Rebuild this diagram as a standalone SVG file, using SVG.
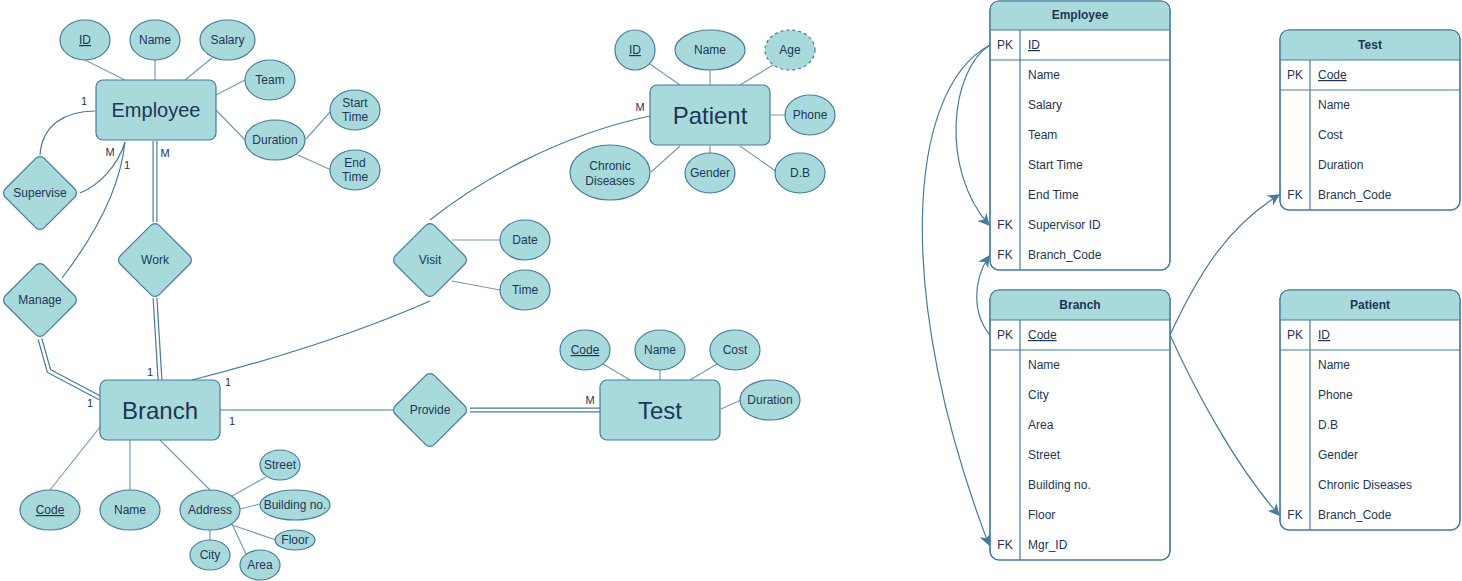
<svg xmlns="http://www.w3.org/2000/svg" width="1462" height="581" viewBox="0 0 1462 581">
<style>
text{font-family:"Liberation Sans",Arial,sans-serif;fill:#1D3557;}
.a{font-size:12px;text-anchor:middle;}
.u{text-decoration:underline;}
.e{font-size:24px;text-anchor:middle;}
.c{font-size:11px;text-anchor:middle;}
.sh{fill:#A8DADC;stroke:#457B9D;stroke-width:1.2;}
.ln{fill:none;stroke:#457B9D;stroke-width:1.2;}
.al{fill:none;stroke:#457B9D;stroke-width:1.2;opacity:0.75;}
.d1{fill:none;stroke:#457B9D;stroke-width:5;}
.d2{fill:none;stroke:#FFFFFF;stroke-width:2.6;}
.tb{fill:#FFFFFF;stroke:#457B9D;stroke-width:1.2;}
.th{fill:#A8DADC;stroke:none;}
.tt{font-size:12px;}
.tk{font-size:12px;text-anchor:middle;}
.tn{font-size:12px;text-anchor:middle;font-weight:bold;}
.fk{fill:none;stroke:#457B9D;stroke-width:1.2;marker-end:url(#arr);}
</style>
<defs>
<marker id="arr" markerUnits="userSpaceOnUse" markerWidth="12" markerHeight="12" viewBox="0 0 10 10" refX="9" refY="5" orient="auto">
<path d="M0,0 L10,5 L0,10 L3,5 Z" fill="#457B9D"/>
</marker>
</defs>
<rect width="1462" height="581" fill="#FFFFFF"/>

<g id="connectors">
<!-- attribute links -->
<path class="al" d="M85,60 L125,80 M155,60 L155,80 M212,58 L185,80 M245,80 L216,95 M246,141 L216,110 M306,139 L331,111 M298,155 L331,170"/>
<path class="al" d="M100,427 L50,490 M130,440 L130,490 M160,440 L210,490 M232,496 L266,477 M240,509 L260,504 M232,525 L276,540 M232,524 L246,554 M210,530 L210,540"/>
<path class="al" d="M650,64 L680,85 M710,70 L710,85 M773,65 L740,85 M785,115 L770,115 M651,172 L680,146 M710,146 L710,153 M777,172 L740,146"/>
<path class="al" d="M603,364 L630,380 M660,370 L660,380 M717,364 L690,380 M741,400 L721,409"/>
<path class="al" d="M452,240 L500,240 M452,281 L500,290"/>
<!-- relationships -->
<path class="ln" d="M95,111 C 65,111 42,125 40,155"/>
<path class="ln" d="M80,193 C 100,185 118,165 125,142"/>
<path class="ln" d="M125,142 C 120,190 95,235 62,278"/>
<path class="d1" d="M40,339 L49,371 L100,398"/>
<path class="d2" d="M40,339 L49,371 L100,398"/>
<path class="d1" d="M155,141 L155,222"/>
<path class="d2" d="M155,141 L155,222"/>
<path class="d1" d="M155,298 L160,380"/>
<path class="d2" d="M155,298 L160,380"/>
<path class="ln" d="M192,380 Q 330,345 430,301"/>
<path class="ln" d="M430,220 C 480,180 560,135 650,116"/>
<path class="ln" d="M220,410 L393,410"/>
<path class="d1" d="M470,410 L600,410"/>
<path class="d2" d="M470,410 L600,410"/>
<!-- cardinalities -->
<text class="c" x="84" y="105">1</text>
<text class="c" x="110" y="156">M</text>
<text class="c" x="127" y="169">1</text>
<text class="c" x="165" y="157">M</text>
<text class="c" x="150" y="376">1</text>
<text class="c" x="90" y="407">1</text>
<text class="c" x="228" y="386">1</text>
<text class="c" x="232" y="425">1</text>
<text class="c" x="640" y="111">M</text>
<text class="c" x="590" y="404">M</text>
<!-- table links -->
<path class="fk" d="M990,45 C 950,70 940,170 989,225"/>
<path class="fk" d="M990,45 C 905,90 895,300 989,545"/>
<path class="fk" d="M990,335 C 973,315 972,282 989,256"/>
<path class="fk" d="M1170,335 C 1200,270 1230,225 1279,195"/>
<path class="fk" d="M1170,335 C 1195,390 1235,465 1279,515"/>
</g>

<!-- Employee entity -->
<g id="employee">
<rect class="sh" x="96" y="80" width="120" height="60" rx="7"/>
<text x="156" y="117" style="font-size:20px;text-anchor:middle">Employee</text>
</g>
<g id="emp-id"><ellipse class="sh" cx="85" cy="40" rx="25" ry="20"/><text class="a u" x="85" y="44">ID</text></g>
<g id="emp-name"><ellipse class="sh" cx="155" cy="40" rx="25" ry="20"/><text class="a" x="155" y="44">Name</text></g>
<g id="emp-salary"><ellipse class="sh" cx="227.5" cy="40" rx="27.5" ry="20"/><text class="a" x="227.5" y="44">Salary</text></g>
<g id="emp-team"><ellipse class="sh" cx="270" cy="80" rx="25" ry="20"/><text class="a" x="270" y="84">Team</text></g>
<g id="emp-duration"><ellipse class="sh" cx="275" cy="140" rx="30" ry="20"/><text class="a" x="275" y="144">Duration</text></g>
<g id="emp-start"><ellipse class="sh" cx="355" cy="110" rx="25" ry="20"/><text class="a" x="355" y="107">Start</text><text class="a" x="355" y="121">Time</text></g>
<g id="emp-end"><ellipse class="sh" cx="355" cy="170" rx="25" ry="20"/><text class="a" x="355" y="167">End</text><text class="a" x="355" y="181">Time</text></g>

<!-- relationships -->
<g id="supervise"><rect class="sh" x="-27.5" y="-27.5" width="55" height="55" rx="6" transform="translate(40,193) rotate(45)"/><text class="a" x="40" y="197">Supervise</text></g>
<g id="manage"><rect class="sh" x="-27.5" y="-27.5" width="55" height="55" rx="6" transform="translate(40,300) rotate(45)"/><text class="a" x="40" y="304">Manage</text></g>
<g id="work"><rect class="sh" x="-27.5" y="-27.5" width="55" height="55" rx="6" transform="translate(155,260) rotate(45)"/><text class="a" x="155" y="264">Work</text></g>
<g id="visit"><rect class="sh" x="-27.5" y="-27.5" width="55" height="55" rx="6" transform="translate(430,260) rotate(45)"/><text class="a" x="430" y="264">Visit</text></g>
<g id="provide"><rect class="sh" x="-27.5" y="-27.5" width="55" height="55" rx="6" transform="translate(430,410) rotate(45)"/><text class="a" x="430" y="414">Provide</text></g>

<!-- Branch entity -->
<g id="branch">
<rect class="sh" x="100" y="380" width="120" height="60" rx="7"/>
<text class="e" x="160" y="419">Branch</text>
</g>
<g id="br-code"><ellipse class="sh" cx="50" cy="510" rx="30" ry="20"/><text class="a u" x="50" y="514">Code</text></g>
<g id="br-name"><ellipse class="sh" cx="130" cy="510" rx="30" ry="20"/><text class="a" x="130" y="514">Name</text></g>
<g id="br-address"><ellipse class="sh" cx="210" cy="510" rx="30" ry="20"/><text class="a" x="210" y="514">Address</text></g>
<g id="br-street"><ellipse class="sh" cx="280" cy="465" rx="20" ry="15"/><text class="a" x="280" y="469">Street</text></g>
<g id="br-building"><ellipse class="sh" cx="295" cy="505" rx="35" ry="15"/><text class="a" x="295" y="509">Building no.</text></g>
<g id="br-floor"><ellipse class="sh" cx="295" cy="540" rx="20" ry="10"/><text class="a" x="295" y="544">Floor</text></g>
<g id="br-city"><ellipse class="sh" cx="210" cy="555" rx="20" ry="15"/><text class="a" x="210" y="559">City</text></g>
<g id="br-area"><ellipse class="sh" cx="260" cy="565" rx="20" ry="15"/><text class="a" x="260" y="569">Area</text></g>

<!-- Patient entity -->
<g id="patient">
<rect class="sh" x="650" y="85" width="120" height="60" rx="7"/>
<text class="e" x="710" y="124">Patient</text>
</g>
<g id="pat-id"><ellipse class="sh" cx="635" cy="50" rx="20" ry="20"/><text class="a u" x="635" y="54">ID</text></g>
<g id="pat-name"><ellipse class="sh" cx="710" cy="50" rx="35" ry="20"/><text class="a" x="710" y="54">Name</text></g>
<g id="pat-age"><ellipse class="sh" cx="790" cy="50" rx="25" ry="20" stroke-dasharray="3 3"/><text class="a" x="790" y="54">Age</text></g>
<g id="pat-phone"><ellipse class="sh" cx="810" cy="115" rx="25" ry="20"/><text class="a" x="810" y="119">Phone</text></g>
<g id="pat-chronic"><ellipse class="sh" cx="610" cy="172.5" rx="40" ry="27.5"/><text class="a" x="610" y="170">Chronic</text><text class="a" x="610" y="185">Diseases</text></g>
<g id="pat-gender"><ellipse class="sh" cx="710" cy="173" rx="25" ry="20"/><text class="a" x="710" y="177">Gender</text></g>
<g id="pat-db"><ellipse class="sh" cx="800" cy="173" rx="25" ry="20"/><text class="a" x="800" y="177">D.B</text></g>

<!-- Visit attributes -->
<g id="visit-date"><ellipse class="sh" cx="525" cy="240" rx="25" ry="20"/><text class="a" x="525" y="244">Date</text></g>
<g id="visit-time"><ellipse class="sh" cx="525" cy="290" rx="25" ry="20"/><text class="a" x="525" y="294">Time</text></g>

<!-- Test entity -->
<g id="test">
<rect class="sh" x="600" y="380" width="120" height="60" rx="7"/>
<text class="e" x="660" y="419">Test</text>
</g>
<g id="test-code"><ellipse class="sh" cx="585" cy="350" rx="25" ry="20"/><text class="a u" x="585" y="354">Code</text></g>
<g id="test-name"><ellipse class="sh" cx="660" cy="350" rx="25" ry="20"/><text class="a" x="660" y="354">Name</text></g>
<g id="test-cost"><ellipse class="sh" cx="735" cy="350" rx="25" ry="20"/><text class="a" x="735" y="354">Cost</text></g>
<g id="test-duration"><ellipse class="sh" cx="770" cy="400" rx="30" ry="20"/><text class="a" x="770" y="404">Duration</text></g>

<!-- Tables -->
<g id="tbl-employee">
<rect class="tb" x="990" y="1" width="180" height="269" rx="9"/>
<path class="th" d="M990.6,30 V10 Q990.6,1.6 999,1.6 H1161 Q1169.4,1.6 1169.4,10 V30 Z"/>
<rect x="990" y="1" width="180" height="269" rx="9" fill="none" stroke="#457B9D" stroke-width="1.2"/>
<path class="ln" d="M990,30 H1170 M990,60 H1170 M1020,30 V270"/>
<text class="tn" x="1080" y="19">Employee</text>
<text class="tk" x="1005" y="49">PK</text><text class="tt u" x="1028" y="49">ID</text>
<text class="tt" x="1028" y="79">Name</text>
<text class="tt" x="1028" y="109">Salary</text>
<text class="tt" x="1028" y="139">Team</text>
<text class="tt" x="1028" y="169">Start Time</text>
<text class="tt" x="1028" y="199">End Time</text>
<text class="tk" x="1005" y="229">FK</text><text class="tt" x="1028" y="229">Supervisor ID</text>
<text class="tk" x="1005" y="259">FK</text><text class="tt" x="1028" y="259">Branch_Code</text>
</g>

<g id="tbl-branch">
<rect class="tb" x="990" y="290" width="180" height="270" rx="9"/>
<path class="th" d="M990.6,320 V299 Q990.6,290.6 999,290.6 H1161 Q1169.4,290.6 1169.4,299 V320 Z"/>
<rect x="990" y="290" width="180" height="270" rx="9" fill="none" stroke="#457B9D" stroke-width="1.2"/>
<path class="ln" d="M990,320 H1170 M990,350 H1170 M1020,320 V560"/>
<text class="tn" x="1080" y="309">Branch</text>
<text class="tk" x="1005" y="339">PK</text><text class="tt u" x="1028" y="339">Code</text>
<text class="tt" x="1028" y="369">Name</text>
<text class="tt" x="1028" y="399">City</text>
<text class="tt" x="1028" y="429">Area</text>
<text class="tt" x="1028" y="459">Street</text>
<text class="tt" x="1028" y="489">Building no.</text>
<text class="tt" x="1028" y="519">Floor</text>
<text class="tk" x="1005" y="549">FK</text><text class="tt" x="1028" y="549">Mgr_ID</text>
</g>

<g id="tbl-test">
<rect class="tb" x="1280" y="30" width="180" height="180" rx="9"/>
<path class="th" d="M1280.6,60 V39 Q1280.6,30.6 1289,30.6 H1451 Q1459.4,30.6 1459.4,39 V60 Z"/>
<rect x="1280" y="30" width="180" height="180" rx="9" fill="none" stroke="#457B9D" stroke-width="1.2"/>
<path class="ln" d="M1280,60 H1460 M1280,90 H1460 M1310,60 V210"/>
<text class="tn" x="1370" y="49">Test</text>
<text class="tk" x="1295" y="79">PK</text><text class="tt u" x="1318" y="79">Code</text>
<text class="tt" x="1318" y="109">Name</text>
<text class="tt" x="1318" y="139">Cost</text>
<text class="tt" x="1318" y="169">Duration</text>
<text class="tk" x="1295" y="199">FK</text><text class="tt" x="1318" y="199">Branch_Code</text>
</g>

<g id="tbl-patient">
<rect class="tb" x="1280" y="290" width="180" height="240" rx="9"/>
<path class="th" d="M1280.6,320 V299 Q1280.6,290.6 1289,290.6 H1451 Q1459.4,290.6 1459.4,299 V320 Z"/>
<rect x="1280" y="290" width="180" height="240" rx="9" fill="none" stroke="#457B9D" stroke-width="1.2"/>
<path class="ln" d="M1280,320 H1460 M1280,350 H1460 M1310,320 V530"/>
<text class="tn" x="1370" y="309">Patient</text>
<text class="tk" x="1295" y="339">PK</text><text class="tt u" x="1318" y="339">ID</text>
<text class="tt" x="1318" y="369">Name</text>
<text class="tt" x="1318" y="399">Phone</text>
<text class="tt" x="1318" y="429">D.B</text>
<text class="tt" x="1318" y="459">Gender</text>
<text class="tt" x="1318" y="489">Chronic Diseases</text>
<text class="tk" x="1295" y="519">FK</text><text class="tt" x="1318" y="519">Branch_Code</text>
</g>
</svg>
